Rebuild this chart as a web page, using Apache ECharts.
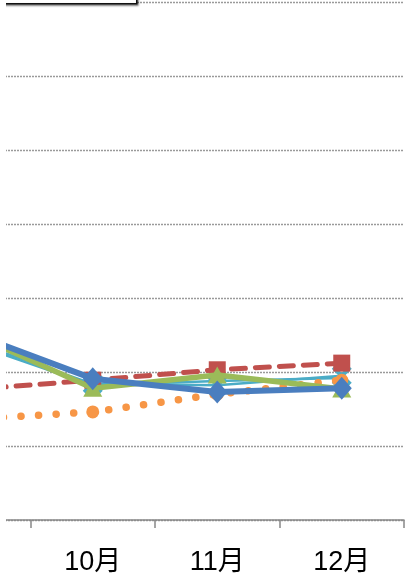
<!DOCTYPE html>
<html>
<head>
<meta charset="utf-8">
<script src="https://cdn.jsdelivr.net/npm/echarts@6/dist/echarts.min.js"></script>
<style>
html,body{margin:0;padding:0;background:#fff;overflow:hidden;}
#wrap{position:absolute;left:6px;top:0;width:402px;height:581px;overflow:hidden;}
#c{position:absolute;left:-100px;top:0;width:501px;height:581px;}
</style>
</head>
<body>
<div id="wrap"><div id="c"></div></div>
<script>
const categories = ['9月', '10月', '11月', '12月'];
const redSeries = [17.6, 18.9, 20.3, 21.2];
const orangeSeries = [13.6, 14.6, 17.0, 18.9];
const greenSeries = [25.4, 17.8, 19.6, 17.7];
const blueSeries = [25.4, 19.1, 17.3, 17.8];
const cyanSeries = [24.3, 18.4, 18.2, 19.5];
const cyan2Series = [24.0, 18.2, 18.8, 19.2];
const yTicks = [0, 10, 20, 30, 40, 50, 60, 70];

const xShape = 'path://M0,3 L3,0 L10,7 L17,0 L20,3 L13,10 L20,17 L17,20 L10,13 L3,20 L0,17 L7,10 Z';

const chart = echarts.init(document.getElementById('c'), null, {renderer: 'canvas'});
chart.setOption({
  animation: false,
  grid: {left: 0, right: 3, top: 2, bottom: 61, containLabel: false},
  xAxis: {
    type: 'category',
    data: categories,
    boundaryGap: true,
    axisLine: {lineStyle: {color: '#888888', width: 1.5}},
    axisTick: {show: true, length: 8, lineStyle: {color: '#888888', width: 1.5}},
    axisLabel: {color: '#000', fontSize: 27, margin: 29, fontFamily: 'Liberation Sans, Noto Sans CJK JP, sans-serif'}
  },
  yAxis: {
    type: 'value',
    min: yTicks[0],
    max: yTicks[yTicks.length - 1],
    interval: 10,
    axisLine: {show: false},
    axisTick: {show: false},
    axisLabel: {show: false},
    splitLine: {lineStyle: {color: '#9a9a9a', width: 1.3, type: [2, 1]}}
  },
  graphic: [{
    type: 'rect',
    left: 94, top: -40,
    shape: {width: 136, height: 43},
    style: {fill: '#fff', stroke: '#111', lineWidth: 1.5, shadowBlur: 2, shadowColor: 'rgba(0,0,0,0.45)', shadowOffsetX: 1, shadowOffsetY: 1.5},
    z: 100
  }],
  series: [
    {
      name: '系列6', type: 'line', data: cyan2Series,
      symbol: 'none',
      lineStyle: {color: '#4BACC6', width: 2.5},
      z: 2
    },
    {
      name: '系列5', type: 'line', data: cyanSeries,
      symbol: xShape, symbolSize: 20,
      itemStyle: {color: '#4BACC6'},
      lineStyle: {color: '#4BACC6', width: 2.5},
      z: 2
    },
    {
      name: '系列1', type: 'line', data: redSeries,
      symbol: 'rect', symbolSize: 17,
      itemStyle: {color: '#C0504D'},
      lineStyle: {color: '#C0504D', width: 5, type: [14, 10], cap: 'round'},
      z: 3
    },
    {
      name: '系列2', type: 'line', data: orangeSeries,
      symbol: 'circle', symbolSize: 13,
      itemStyle: {color: '#F79646'},
      lineStyle: {color: '#F79646', width: 7.5, type: [0.1, 17.5], cap: 'round'},
      z: 4
    },
    {
      name: '系列3', type: 'line', data: greenSeries,
      symbol: 'triangle', symbolSize: [19, 17],
      itemStyle: {color: '#9BBB59'},
      lineStyle: {color: '#9BBB59', width: 5.5, cap: 'round'},
      z: 5
    },
    {
      name: '系列4', type: 'line', data: blueSeries,
      symbol: 'diamond', symbolSize: [20, 23],
      itemStyle: {color: '#4A7EBF'},
      lineStyle: {color: '#4A7EBF', width: 6, cap: 'round'},
      z: 6
    }
  ]
});
</script>
</body>
</html>
